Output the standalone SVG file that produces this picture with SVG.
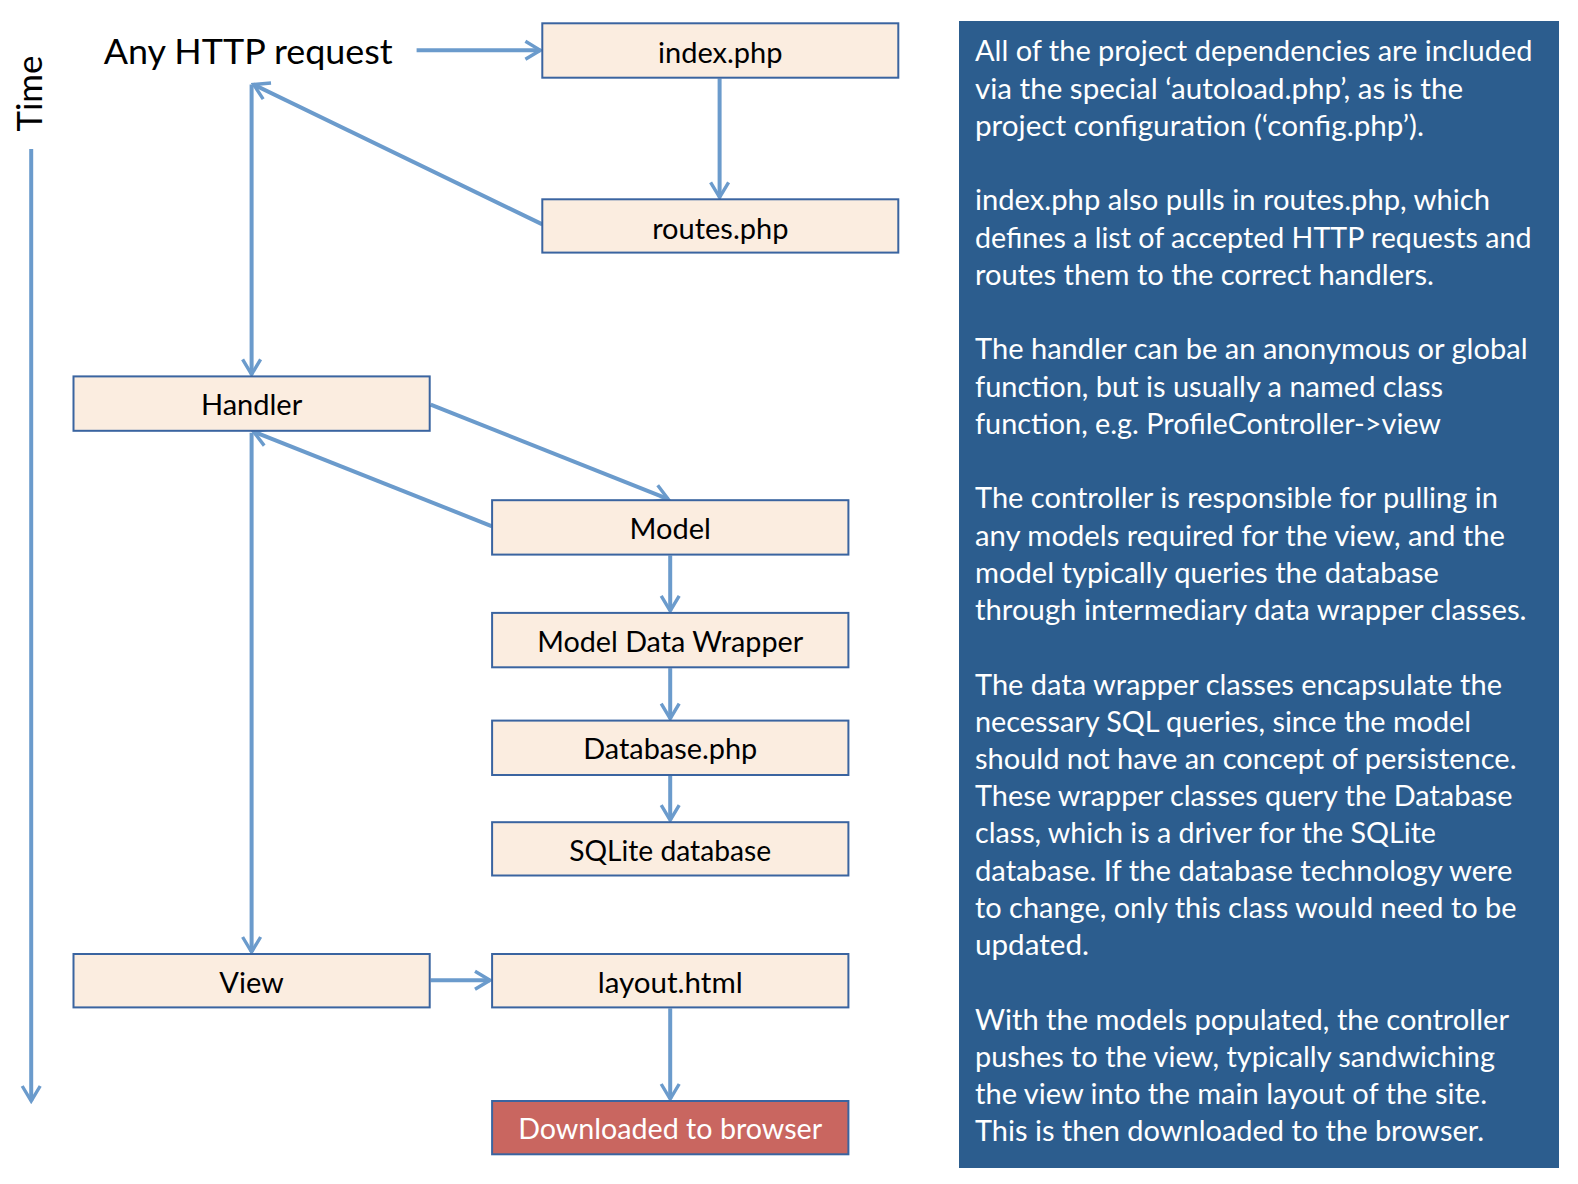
<svg xmlns="http://www.w3.org/2000/svg" width="1578" height="1184" viewBox="0 0 1578 1184">
<defs>
<marker id="ah" viewBox="0 0 20 22" refX="17" refY="11" markerWidth="20" markerHeight="22" markerUnits="userSpaceOnUse" orient="auto">
<path d="M2,2 L17,11 L2,20" fill="none" stroke="#6b9bcc" stroke-width="3.4" stroke-linejoin="miter"/>
</marker>
<style>
.box{fill:#fbede0;stroke:#3a64a0;stroke-width:2}
.red{fill:#c96660;stroke:#3a64a0;stroke-width:2}
.lbl{font-family:Lato,"Open Sans",sans-serif;font-size:29px;fill:#000;text-anchor:middle}
.wl{fill:#fff}
.con{stroke:#6b9bcc;stroke-width:4;fill:none;marker-end:url(#ah)}
.pt{font-family:Lato,"Open Sans",sans-serif;font-size:29.5px;fill:#fff}
</style>
</defs>
<rect width="1578" height="1184" fill="#fff"/>

<g id="panel">
<rect x="959" y="21" width="600" height="1147" fill="#2c5d8e"/>
<text class="pt" x="975" y="61.4" textLength="557.5" lengthAdjust="spacingAndGlyphs">All of the project dependencies are included</text>
<text class="pt" x="975" y="98.6" textLength="488" lengthAdjust="spacingAndGlyphs">via the special ‘autoload.php’, as is the</text>
<text class="pt" x="975" y="135.9" textLength="449" lengthAdjust="spacingAndGlyphs">project configuration (‘config.php’).</text>
<text class="pt" x="975" y="210.4" textLength="515" lengthAdjust="spacingAndGlyphs">index.php also pulls in routes.php, which</text>
<text class="pt" x="975" y="247.6" textLength="556.5" lengthAdjust="spacingAndGlyphs">defines a list of accepted HTTP requests and</text>
<text class="pt" x="975" y="284.8" textLength="459" lengthAdjust="spacingAndGlyphs">routes them to the correct handlers.</text>
<text class="pt" x="975" y="359.3" textLength="552.5" lengthAdjust="spacingAndGlyphs">The handler can be an anonymous or global</text>
<text class="pt" x="975" y="396.6" textLength="468" lengthAdjust="spacingAndGlyphs">function, but is usually a named class</text>
<text class="pt" x="975" y="433.8" textLength="466" lengthAdjust="spacingAndGlyphs">function, e.g. ProfileController-&gt;view</text>
<text class="pt" x="975" y="508.3" textLength="523" lengthAdjust="spacingAndGlyphs">The controller is responsible for pulling in</text>
<text class="pt" x="975" y="545.5" textLength="530" lengthAdjust="spacingAndGlyphs">any models required for the view, and the</text>
<text class="pt" x="975" y="582.8" textLength="464" lengthAdjust="spacingAndGlyphs">model typically queries the database</text>
<text class="pt" x="975" y="620" textLength="551.5" lengthAdjust="spacingAndGlyphs">through intermediary data wrapper classes.</text>
<text class="pt" x="975" y="694.5" textLength="527" lengthAdjust="spacingAndGlyphs">The data wrapper classes encapsulate the</text>
<text class="pt" x="975" y="731.7" textLength="496" lengthAdjust="spacingAndGlyphs">necessary SQL queries, since the model</text>
<text class="pt" x="975" y="769" textLength="541.5" lengthAdjust="spacingAndGlyphs">should not have an concept of persistence.</text>
<text class="pt" x="975" y="806.2" textLength="537.5" lengthAdjust="spacingAndGlyphs">These wrapper classes query the Database</text>
<text class="pt" x="975" y="843.4" textLength="461" lengthAdjust="spacingAndGlyphs">class, which is a driver for the SQLite</text>
<text class="pt" x="975" y="880.7" textLength="537.5" lengthAdjust="spacingAndGlyphs">database. If the database technology were</text>
<text class="pt" x="975" y="917.9" textLength="541.5" lengthAdjust="spacingAndGlyphs">to change, only this class would need to be</text>
<text class="pt" x="975" y="955.2" textLength="114" lengthAdjust="spacingAndGlyphs">updated.</text>
<text class="pt" x="975" y="1029.6" textLength="534" lengthAdjust="spacingAndGlyphs">With the models populated, the controller</text>
<text class="pt" x="975" y="1066.9" textLength="520" lengthAdjust="spacingAndGlyphs">pushes to the view, typically sandwiching</text>
<text class="pt" x="975" y="1104.1" textLength="512" lengthAdjust="spacingAndGlyphs">the view into the main layout of the site.</text>
<text class="pt" x="975" y="1141.4" textLength="509" lengthAdjust="spacingAndGlyphs">This is then downloaded to the browser.</text>
</g>

<g id="connectors">
<line class="con" x1="31.2" y1="149" x2="31.2" y2="1101"/>
<line class="con" x1="416.6" y1="50.3" x2="540.4" y2="50.3"/>
<line class="con" x1="719.6" y1="78.5" x2="719.6" y2="197.3"/>
<line class="con" x1="542.4" y1="224.4" x2="253.6" y2="84.5"/>
<line class="con" x1="251.6" y1="84.5" x2="251.6" y2="374.4"/>
<line class="con" x1="430.7" y1="404.6" x2="668.3" y2="499.2"/>
<line class="con" x1="492.1" y1="526.3" x2="253.6" y2="431.7"/>
<line class="con" x1="251.6" y1="432.7" x2="251.6" y2="952"/>
<line class="con" x1="670.2" y1="555.5" x2="670.2" y2="610.9"/>
<line class="con" x1="670.2" y1="668.2" x2="670.2" y2="718.6"/>
<line class="con" x1="670.2" y1="775.9" x2="670.2" y2="820.2"/>
<line class="con" x1="430.7" y1="980.2" x2="490" y2="980.2"/>
<line class="con" x1="670.2" y1="1008.4" x2="670.2" y2="1099"/>
</g>

<g id="time"><text x="42" y="93.6" font-family="Lato,'Open Sans',sans-serif" font-size="35" text-anchor="middle" transform="rotate(-90 42 93.6)" textLength="76" lengthAdjust="spacingAndGlyphs">Time</text></g>
<g id="request"><text x="103.7" y="64.4" font-family="Lato,'Open Sans',sans-serif" font-size="34.5" textLength="289" lengthAdjust="spacingAndGlyphs">Any HTTP request</text></g>

<g id="index"><rect class="box" x="542.3" y="23.3" width="356" height="54.4"/><text class="lbl" x="720.3" y="62.5">index.php</text></g>
<g id="routes"><rect class="box" x="542.3" y="199.3" width="356" height="53.3"/><text class="lbl" x="720.3" y="238.5">routes.php</text></g>
<g id="handler"><rect class="box" x="73.5" y="376.4" width="356.2" height="54.4"/><text class="lbl" x="251.6" y="415.2">Handler</text></g>
<g id="model"><rect class="box" x="492.1" y="500.2" width="356.3" height="54.4"/><text class="lbl" x="670.2" y="539">Model</text></g>
<g id="mdw"><rect class="box" x="492.1" y="612.9" width="356.3" height="54.4"/><text class="lbl" x="670.2" y="651.5" textLength="266" lengthAdjust="spacingAndGlyphs">Model Data Wrapper</text></g>
<g id="dbphp"><rect class="box" x="492.1" y="720.6" width="356.3" height="54.4"/><text class="lbl" x="670.2" y="759.3" textLength="174" lengthAdjust="spacingAndGlyphs">Database.php</text></g>
<g id="sqlite"><rect class="box" x="492.1" y="822.2" width="356.3" height="53.3"/><text class="lbl" x="670.2" y="860.5" textLength="202" lengthAdjust="spacingAndGlyphs">SQLite database</text></g>
<g id="view"><rect class="box" x="73.5" y="954" width="356.2" height="53.4"/><text class="lbl" x="251.6" y="992.5">View</text></g>
<g id="layout"><rect class="box" x="492.1" y="954" width="356.3" height="53.4"/><text class="lbl" x="670.2" y="992.5" textLength="145" lengthAdjust="spacingAndGlyphs">layout.html</text></g>
<g id="download"><rect class="red" x="492.1" y="1101" width="356.3" height="53.3"/><text class="lbl wl" x="670.2" y="1139.3" textLength="304" lengthAdjust="spacingAndGlyphs">Downloaded to browser</text></g>
</svg>
